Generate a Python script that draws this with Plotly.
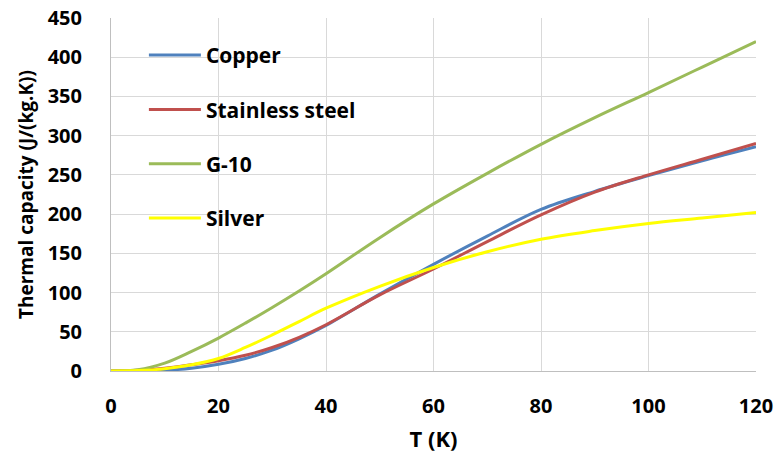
import plotly.graph_objects as go

# Temperature grid (K)
temperature = [0, 5, 10, 15, 20, 25, 30, 35, 40, 50, 60, 70, 80, 90, 100, 110, 120]

# Specific heat capacity, J/(kg.K)
copper = [0, 0.1, 0.9, 3.5, 8.5, 16, 26.5, 41, 58, 98, 136, 172, 206, 229, 249, 268, 286]
stainless_steel = [0, 0.8, 3.5, 8, 13, 20, 30, 43, 59, 97, 130, 165, 199, 228, 250, 270, 290]
g10 = [0, 1.5, 10, 25, 42, 61, 81, 102, 124, 170, 213, 252, 289, 323, 355, 387.5, 420]
silver = [0, 0.5, 3, 8, 16, 30, 46, 63, 80, 108, 132, 152, 168, 179, 188, 195, 202]

x_ticks = [0, 20, 40, 60, 80, 100, 120]
y_ticks = [0, 50, 100, 150, 200, 250, 300, 350, 400, 450]

series = [
    ("Copper", copper, "#4F81BD"),
    ("Stainless steel", stainless_steel, "#C0504D"),
    ("G-10", g10, "#9BBB59"),
    ("Silver", silver, "#FFFF00"),
]

FONT = "Open Sans"


def bold(size):
    return dict(family=FONT, size=size, color="black", weight="bold")


fig = go.Figure()
for name, values, color in series:
    fig.add_trace(go.Scatter(
        x=temperature, y=values, name=name, mode="lines",
        line=dict(color=color, width=3, shape="spline", smoothing=1),
        legendgroup=name,
    ))

fig.update_layout(
    width=777, height=459,
    margin=dict(l=111, r=21, t=18, b=88),
    paper_bgcolor="white", plot_bgcolor="white",
    font=bold(20),
    showlegend=True,
    legend=dict(
        x=0.051, y=0.952, xanchor="left", yanchor="top",
        bgcolor="rgba(0,0,0,0)", itemwidth=52,
        tracegroupgap=24, traceorder="grouped",
        font=bold(21),
    ),
    xaxis=dict(
        range=[0, 120], tickvals=x_ticks, ticktext=[str(v) for v in x_ticks],
        showgrid=True, gridcolor="#D9D9D9", gridwidth=1,
        showline=True, linecolor="#BFBFBF", linewidth=1,
        zeroline=False, ticks="", ticklabelstandoff=17, automargin=False,
        tickfont=bold(20),
        title=dict(text="T (K)", standoff=13, font=bold(22)),
    ),
    yaxis=dict(
        range=[0, 450], tickvals=y_ticks, ticktext=[str(v) for v in y_ticks],
        showgrid=True, gridcolor="#D9D9D9", gridwidth=1,
        showline=True, linecolor="#BFBFBF", linewidth=1,
        zeroline=False, ticks="", ticklabelstandoff=24, automargin=False,
        tickfont=bold(20),
        title=dict(text="Thermal capacity (J/(kg.K))", standoff=9, font=bold(19)),
    ),
)

fig.write_html("out.html")
